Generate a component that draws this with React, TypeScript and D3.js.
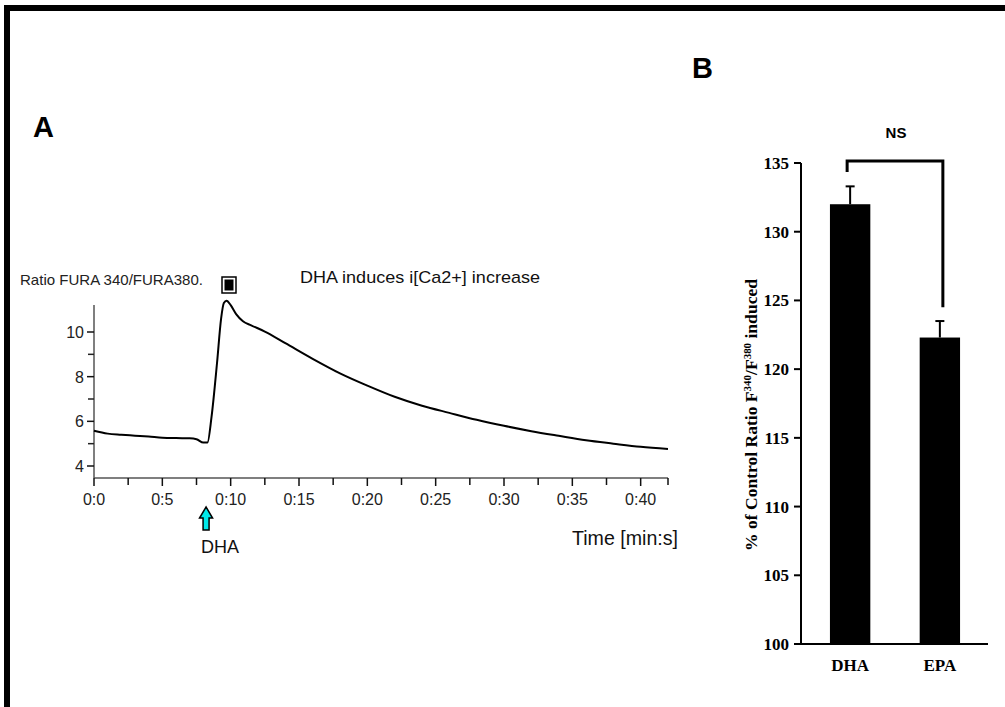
import React from "react";
import * as d3 from "d3";

// Panel A: Fura ratio trace
const traceTime = [0, 1, 2, 3, 4, 5, 6, 7, 7.5, 8, 8.3, 8.6, 9.0, 9.3, 9.5, 9.7, 10.0, 10.4, 10.9, 11.5, 12.5, 14, 16, 18, 20, 22, 24, 26, 28, 30, 32, 34, 36, 38, 40, 42];
const traceValue = [5.58, 5.45, 5.4, 5.36, 5.32, 5.27, 5.25, 5.24, 5.2, 5.05, 5.05, 6.2, 8.6, 10.6, 11.3, 11.4, 11.2, 10.8, 10.48, 10.3, 10.02, 9.5, 8.8, 8.15, 7.6, 7.1, 6.7, 6.38, 6.07, 5.8, 5.56, 5.35, 5.15, 5.0, 4.86, 4.76];
const yTicksA = [4, 6, 8, 10];
const yMinorA = [5, 7, 9];
const xTicksA = [0, 5, 10, 15, 20, 25, 30, 35, 40];
const xMinorA = [2.5, 7.5, 12.5, 17.5, 22.5, 27.5, 32.5, 37.5, 42];

// Panel B: bar chart
const barCategories = ["DHA", "EPA"];
const barValues = [132.0, 122.3];
const barErrors = [1.3, 1.2];
const yTicksB = [100, 105, 110, 115, 120, 125, 130, 135];

const SANS = "'Liberation Sans', Arial, sans-serif";
const SERIF = "'Liberation Serif', 'Times New Roman', serif";

export default function App() {
  const xA = d3.scaleLinear().domain([0, 42]).range([94, 668]);
  const yA = d3.scaleLinear().domain([4, 10]).range([466, 332]);
  const axisYA = 478;
  const line = d3
    .line<number>()
    .x((_, i) => xA(traceTime[i]))
    .y((v) => yA(v))
    .curve(d3.curveMonotoneX);

  const yB = d3.scaleLinear().domain([100, 135]).range([644, 163]);
  const xB = d3.scaleBand().domain(barCategories).range([812, 978]).paddingInner(0.55).paddingOuter(0.2);
  const bw = xB.bandwidth();

  const cx0 = (xB("DHA") as number) + bw / 2;
  const cx1 = (xB("EPA") as number) + bw / 2;
  const bracketY = 161;
  const ax = xA(8.2);

  return (
    <svg width={1005} height={707} style={{ position: "absolute", left: 0, top: 0, background: "#fff" }}>
      {/* frame */}
      <rect x={4} y={5} width={1001} height={6} fill="#000" />
      <rect x={4} y={5} width={6} height={702} fill="#000" />

      {/* Panel labels */}
      <text x={33} y={137} fontFamily={SANS} fontWeight="bold" fontSize={29}>A</text>
      <text x={692} y={78} fontFamily={SANS} fontWeight="bold" fontSize={29}>B</text>

      {/* Panel A */}
      <text x={20} y={285} fontFamily={SANS} fontSize={15} textLength={183} lengthAdjust="spacingAndGlyphs" fill="#222">
        Ratio FURA 340/FURA380.
      </text>
      <rect x={222} y={277} width={14} height={16} fill="#fff" stroke="#000" strokeWidth={1.5} />
      <rect x={224.5} y={279.5} width={9} height={11} fill="#000" />
      <text x={300} y={283} fontFamily={SANS} fontSize={17} textLength={240} lengthAdjust="spacingAndGlyphs" fill="#111">
        DHA induces i[Ca2+] increase
      </text>

      {/* y axis A */}
      <line x1={xA(0)} x2={xA(0)} y1={305} y2={axisYA} stroke="#555" strokeWidth={1.5} />
      {yTicksA.map((t) => (
        <g key={"ya" + t}>
          <line x1={xA(0) - 7} x2={xA(0)} y1={yA(t)} y2={yA(t)} stroke="#111" strokeWidth={1.5} />
          <text x={xA(0) - 10} y={yA(t) + 6} textAnchor="end" fontFamily={SANS} fontSize={16} fill="#222">{t}</text>
        </g>
      ))}
      {yMinorA.map((t) => (
        <line key={"ym" + t} x1={xA(0) - 6} x2={xA(0)} y1={yA(t)} y2={yA(t)} stroke="#222" strokeWidth={1.5} />
      ))}

      {/* x axis A */}
      <line x1={xA(0)} x2={xA(42)} y1={axisYA} y2={axisYA} stroke="#555" strokeWidth={1.5} />
      {xTicksA.map((t) => (
        <g key={"xa" + t}>
          <line x1={xA(t)} x2={xA(t)} y1={axisYA} y2={axisYA + 8} stroke="#111" strokeWidth={1.5} />
          <text x={xA(t)} y={axisYA + 27} textAnchor="middle" fontFamily={SANS} fontSize={16} fill="#222">{"0:" + t}</text>
        </g>
      ))}
      {xMinorA.map((t) => (
        <line key={"xm" + t} x1={xA(t)} x2={xA(t)} y1={axisYA} y2={axisYA + 7} stroke="#111" strokeWidth={1.5} />
      ))}
      <text x={678} y={545} textAnchor="end" fontFamily={SANS} fontSize={20} fill="#111" textLength={106} lengthAdjust="spacingAndGlyphs">
        Time [min:s]
      </text>

      {/* DHA arrow */}
      <path
        d={`M${ax - 6.5},${518} L${ax},${507} L${ax + 6.5},${518} L${ax + 3},${518} L${ax + 3},${530} L${ax - 3},${530} L${ax - 3},${518} Z`}
        fill="#00e8e8"
        stroke="#000"
        strokeWidth={1.5}
      />
      <text x={ax + 14} y={553} textAnchor="middle" fontFamily={SANS} fontSize={18} fill="#111">DHA</text>

      {/* trace */}
      <path d={line(traceValue) || ""} fill="none" stroke="#000" strokeWidth={2} />

      {/* Panel B */}
      {barCategories.map((c, i) => {
        const x = xB(c) as number;
        const cx = x + bw / 2;
        return (
          <g key={c}>
            <line x1={cx} x2={cx} y1={yB(barValues[i])} y2={yB(barValues[i] + barErrors[i])} stroke="#000" strokeWidth={2} />
            <line x1={cx - 4.5} x2={cx + 4.5} y1={yB(barValues[i] + barErrors[i])} y2={yB(barValues[i] + barErrors[i])} stroke="#000" strokeWidth={2} />
            <rect x={x} y={yB(barValues[i])} width={bw} height={yB(100) - yB(barValues[i])} fill="#000" />
            <text x={cx} y={671} textAnchor="middle" fontFamily={SERIF} fontWeight="bold" fontSize={17}>{c}</text>
          </g>
        );
      })}
      <line x1={801} x2={801} y1={yB(135)} y2={yB(100)} stroke="#000" strokeWidth={2} />
      <line x1={800} x2={988} y1={yB(100)} y2={yB(100)} stroke="#000" strokeWidth={2} />
      {yTicksB.map((t) => (
        <g key={"yb" + t}>
          <line x1={794} x2={801} y1={yB(t)} y2={yB(t)} stroke="#000" strokeWidth={2} />
          <text x={789} y={yB(t) + 6} textAnchor="end" fontFamily={SERIF} fontWeight="bold" fontSize={17}>{t}</text>
        </g>
      ))}
      <text
        transform={`translate(757,${415}) rotate(-90)`}
        textAnchor="middle"
        fontFamily={SERIF}
        fontWeight="bold"
        fontSize={16}
        textLength={272}
        lengthAdjust="spacingAndGlyphs"
      >
        <tspan>% of Control Ratio F</tspan>
        <tspan fontSize={10} dy={-6}>340</tspan>
        <tspan dy={6}>/F</tspan>
        <tspan fontSize={10} dy={-6}>380</tspan>
        <tspan dy={6}> induced</tspan>
      </text>

      {/* bracket */}
      <path
        d={`M${cx0 - 3},${bracketY + 11} L${cx0 - 3},${bracketY} L${cx1 + 3},${bracketY} L${cx1 + 3},${yB(124.5)}`}
        fill="none"
        stroke="#000"
        strokeWidth={3}
      />
      <text x={(cx0 + cx1) / 2 + 1} y={138} textAnchor="middle" fontFamily={SANS} fontWeight="bold" fontSize={15}>NS</text>
    </svg>
  );
}
